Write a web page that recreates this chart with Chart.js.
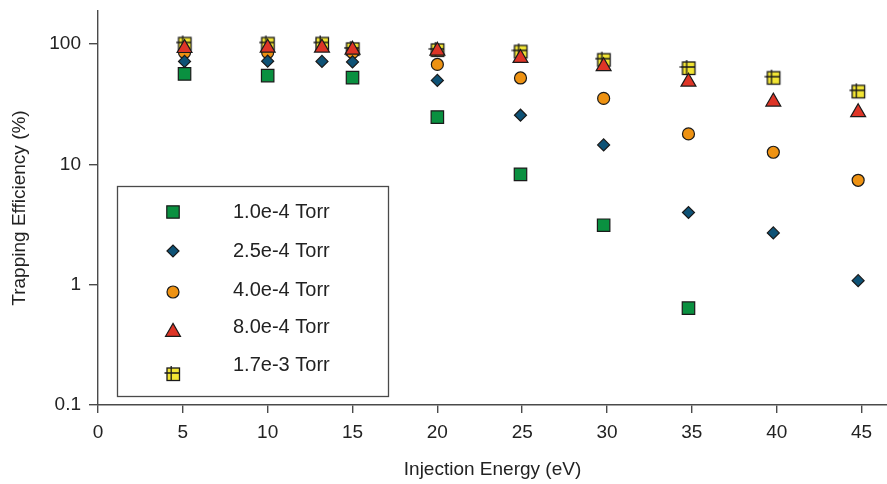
<!DOCTYPE html>
<html>
<head>
<meta charset="utf-8">
<title>Trapping Efficiency</title>
<script src="https://cdn.jsdelivr.net/npm/chart.js"></script>
<style>
  html, body { margin: 0; padding: 0; background: #fff; }
  #grafico { display: block; }
</style>
</head>
<body>
<canvas id="grafico" width="887" height="484"></canvas>
<script>
// energias de inyeccion (eV)
const energias = [5.1, 10, 13.2, 15, 20, 24.9, 29.8, 34.8, 39.8, 44.8];

// eficiencia de atrapamiento (%) por presion
const p1e4 = [56.4, 54.6, null, 52.5, 24.7, 8.26, 3.12, 0.638, null, null];
const p25e4 = [71.6, 72, 71.6, 71, 49.8, 25.6, 14.5, 3.98, 2.69, 1.08];
const p4e4 = [85, 85, null, 85, 67.6, 52.2, 35.3, 17.9, 12.6, 7.37];
const p8e4 = [92.3, 93, 93, 89.5, 87.7, 76.3, 65.1, 48.5, 33.1, 27.0];
const p17e3 = [101, 101, 101, 91, 89.3, 86.8, 74.1, 63.2, 52.5, 40.4];

const nombres = ['1.0e-4 Torr', '2.5e-4 Torr', '4.0e-4 Torr', '8.0e-4 Torr', '1.7e-3 Torr'];

const xTicks = [0, 5, 10, 15, 20, 25, 30, 35, 40, 45];
const yTicks = [0.1, 1, 10, 100];
const yTickLabels = ['0.1', '1', '10', '100'];

const FUENTE = "'Liberation Sans', Arial, Helvetica, sans-serif";
const TINTA = '#222';
const EJE = '#4a4a4a';

// cuadrado amarillo con cruz (marcador de 1.7e-3 Torr)
function cuadroCruz() {
    const c = document.createElement('canvas');
    c.width = 18; c.height = 18;
    const g = c.getContext('2d');
    g.fillStyle = '#f2e534';
    g.strokeStyle = '#1a1a1a';
    g.lineWidth = 1.3;
    g.fillRect(3, 3, 12.5, 12.5);
    g.strokeRect(3, 3, 12.5, 12.5);
    g.beginPath();
    g.moveTo(7.2, 1); g.lineTo(7.2, 15.5);
    g.moveTo(0.5, 8); g.lineTo(15.5, 8);
    g.stroke();
    return c;
}
const marcaAmarilla = cuadroCruz();

function puntos(valores) {
    const out = [];
    valores.forEach((v, i) => {
        if (v !== null) out.push({ x: energias[i], y: v });
    });
    return out;
}

const series = [
    { label: nombres[0], data: puntos(p1e4), pointStyle: 'rect', pointRadius: 8.8, backgroundColor: '#0a9040', order: 0 },
    { label: nombres[1], data: puntos(p25e4), pointStyle: 'rectRot', pointRadius: 6, backgroundColor: '#0e5276', order: 1 },
    { label: nombres[2], data: puntos(p4e4), pointStyle: 'circle', pointRadius: 6, backgroundColor: '#ee9212', order: 3 },
    { label: nombres[3], data: puntos(p8e4), pointStyle: 'triangle', pointRadius: 8.6, backgroundColor: '#de3527', order: 2 },
    { label: nombres[4], data: puntos(p17e3), pointStyle: marcaAmarilla, pointRadius: 9, backgroundColor: '#f2e534', order: 4 }
];
series.forEach(s => {
    s.borderColor = '#1a1a1a';
    s.borderWidth = 1.2;
    s.pointBorderWidth = 1.2;
    s.showLine = false;
});

// dibuja un marcador suelto (para la leyenda)
function marcador(ctx, s, x, y) {
    ctx.save();
    ctx.fillStyle = s.backgroundColor;
    ctx.strokeStyle = s.borderColor;
    ctx.lineWidth = s.borderWidth;
    if (Chart.helpers && Chart.helpers.drawPoint) {
        Chart.helpers.drawPoint(ctx, { pointStyle: s.pointStyle, radius: s.pointRadius, rotation: 0, borderWidth: s.borderWidth }, x, y);
    } else if (s.pointStyle instanceof HTMLCanvasElement) {
        ctx.drawImage(s.pointStyle, x - s.pointStyle.width / 2, y - s.pointStyle.height / 2);
    } else {
        ctx.beginPath();
        ctx.arc(x, y, s.pointRadius * 0.7, 0, Math.PI * 2);
        ctx.fill(); ctx.stroke();
    }
    ctx.restore();
}

// leyenda en recuadro dentro del area del grafico
const leyenda = {
    id: 'leyenda',
    afterDraw(chart) {
        const ctx = chart.ctx;
        ctx.save();
        ctx.strokeStyle = EJE;
        ctx.lineWidth = 1.3;
        ctx.strokeRect(117.5, 186.5, 271, 210);
        const filasMarca = [212, 251, 292, 332, 374];
        const filasTexto = [212, 251, 290, 327, 365];
        ctx.font = '20px ' + FUENTE;
        ctx.fillStyle = TINTA;
        ctx.textBaseline = 'middle';
        ctx.textAlign = 'left';
        series.forEach((s, i) => {
            marcador(ctx, s, 173, filasMarca[i]);
            ctx.fillText(s.label, 233, filasTexto[i]);
        });
        ctx.restore();
    }
};

// sin relleno extra por las etiquetas de los extremos
function sinRelleno(scale) {
    scale.paddingTop = 0;
    scale.paddingBottom = 0;
    scale.paddingLeft = 0;
    scale.paddingRight = 0;
}

new Chart(document.getElementById('grafico'), {
    type: 'scatter',
    data: { datasets: series },
    options: {
        responsive: false,
        animation: false,
        events: [],
        layout: { autoPadding: false, padding: { top: 11, right: 0, bottom: 0, left: 0 } },
        plugins: {
            legend: { display: false },
            tooltip: { enabled: false }
        },
        scales: {
            x: {
                type: 'linear',
                min: 0,
                max: 46.5,
                afterBuildTicks: (scale) => { scale.ticks = xTicks.map(v => ({ value: v })); },
                afterFit: (scale) => { scale.height = 79; sinRelleno(scale); },
                ticks: {
                    color: TINTA,
                    font: { family: FUENTE, size: 19 },
                    padding: 8,
                    maxRotation: 0,
                    callback: (v) => String(v)
                },
                grid: { drawOnChartArea: false, drawTicks: true, tickLength: 8, color: EJE, lineWidth: 1.4 },
                border: { display: true, color: EJE, width: 1.4 },
                title: {
                    display: true,
                    text: 'Injection Energy (eV)',
                    color: TINTA,
                    font: { family: FUENTE, size: 19 },
                    padding: { top: 0, bottom: 3 }
                }
            },
            y: {
                type: 'logarithmic',
                min: 0.1,
                max: 188,
                afterBuildTicks: (scale) => { scale.ticks = yTicks.map(v => ({ value: v })); },
                afterFit: (scale) => { scale.width = 98; sinRelleno(scale); },
                ticks: {
                    color: TINTA,
                    font: { family: FUENTE, size: 19 },
                    padding: 8,
                    callback: (v) => {
                        const i = yTicks.indexOf(v);
                        return i >= 0 ? yTickLabels[i] : '';
                    }
                },
                grid: { drawOnChartArea: false, drawTicks: true, tickLength: 9, color: EJE, lineWidth: 1.4 },
                border: { display: true, color: EJE, width: 1.4 },
                title: {
                    display: true,
                    text: 'Trapping Efficiency (%)',
                    color: TINTA,
                    font: { family: FUENTE, size: 19 },
                    padding: { top: 8.5, bottom: 0 }
                }
            }
        }
    },
    plugins: [leyenda]
});
</script>
</body>
</html>
